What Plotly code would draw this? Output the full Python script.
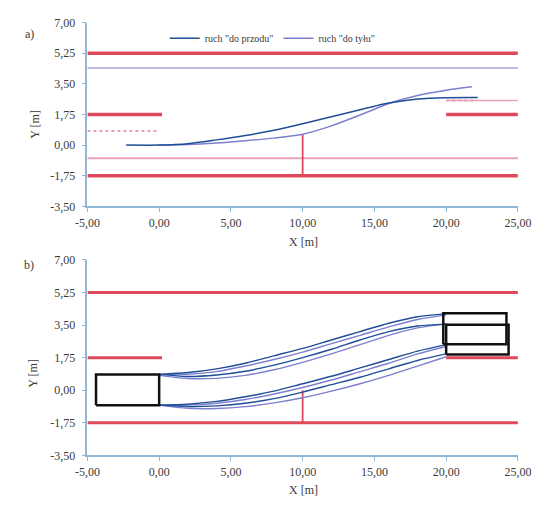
import plotly.graph_objects as go

# ---------------- data ----------------
y_ticks = [-3.5, -1.75, 0.0, 1.75, 3.5, 5.25, 7.0]
y_tick_text = ["-3,50", "-1,75", "0,00", "1,75", "3,50", "5,25", "7,00"]
x_ticks = [-5, 0, 5, 10, 15, 20, 25]
x_tick_text = ["-5,00", "0,00", "5,00", "10,00", "15,00", "20,00", "25,00"]

# panel a) trajectories
a_fwd_x = [-2.3, 0, 2, 4, 6, 8, 10, 12, 14, 15, 16, 18, 20, 22.2]
a_fwd_y = [0.0, 0.0, 0.08, 0.3, 0.55, 0.85, 1.22, 1.62, 2.02, 2.22, 2.4, 2.63, 2.71, 2.72]
a_bwd_x = [0, 2, 4, 6, 8, 10, 12, 14, 15, 16, 18, 20, 21.8]
a_bwd_y = [0.0, 0.03, 0.12, 0.25, 0.4, 0.62, 1.1, 1.72, 2.05, 2.38, 2.84, 3.14, 3.33]

# panel b) trajectories (corners of the vehicle)
b_x = [0, 2, 4, 6, 8, 10, 12, 14, 16, 18, 20]
b_up_fwd1 = [0.85, 0.95, 1.15, 1.45, 1.85, 2.25, 2.7, 3.15, 3.6, 3.95, 4.1]
b_up_fwd2 = [0.85, 0.74, 0.82, 1.02, 1.35, 1.75, 2.2, 2.7, 3.15, 3.45, 3.55]
b_up_bwd1 = [0.85, 0.86, 1.0, 1.3, 1.65, 2.05, 2.5, 2.95, 3.4, 3.8, 4.05]
b_up_bwd2 = [0.8, 0.63, 0.64, 0.8, 1.1, 1.5, 1.95, 2.45, 2.95, 3.35, 3.55]
b_lo_fwd1 = [-0.8, -0.75, -0.6, -0.35, -0.05, 0.35, 0.75, 1.2, 1.65, 2.1, 2.45]
b_lo_fwd2 = [-0.8, -0.88, -0.84, -0.7, -0.45, -0.1, 0.3, 0.7, 1.15, 1.6, 1.95]
b_lo_bwd1 = [-0.8, -0.8, -0.7, -0.5, -0.2, 0.15, 0.55, 1.0, 1.45, 1.95, 2.35]
b_lo_bwd2 = [-0.8, -0.97, -0.98, -0.88, -0.68, -0.4, -0.05, 0.35, 0.8, 1.3, 1.8]

# vehicle outlines in panel b)
veh_start_x = [-4.4, 0.0, 0.0, -4.4, -4.4]
veh_start_y = [-0.8, -0.8, 0.85, 0.85, -0.8]
veh_end1_x = [19.8, 24.2, 24.2, 19.8, 19.8]
veh_end1_y = [2.47, 2.47, 4.13, 4.13, 2.47]
veh_end2_x = [20.0, 24.35, 24.35, 20.0, 20.0]
veh_end2_y = [1.92, 1.92, 3.52, 3.52, 1.92]

# road markings  (x0, x1, y)
a_red_lines = [(-5, 25, 5.25), (-5, 0.2, 1.75), (20, 25, 1.75), (-5, 25, -1.75)]
a_thin_lines = [(-5, 25, 4.4), (-5, 25, -0.75), (20, 25, 2.55)]
a_dotted_lines = [(-5, 0, 0.8), (20, 22, 2.55)]
a_vertical = (10, -1.75, 0.6)
b_red_lines = [(-5, 25, 5.25), (-5, 0.2, 1.75), (20, 25, 1.75), (-5, 25, -1.75)]
b_vertical = (10, -1.75, 0.0)

# ---------------- style ----------------
RED = "#df4a5a"
PINK = "#e8a2b8"
LILAC = "#a9a2d8"
FWD = "#1f4f96"
BWD = "#7c80cf"
BLACK = "#111111"
FONT = "Liberation Serif"

fig = go.Figure()


def hline(x0, x1, y, color, width, xa, ya, dash="solid"):
    fig.add_trace(go.Scatter(x=[x0, x1], y=[y, y], mode="lines",
                             line=dict(color=color, width=width, dash=dash),
                             xaxis=xa, yaxis=ya, showlegend=False,
                             hoverinfo="skip"))


def vline(x, y0, y1, color, width, xa, ya):
    fig.add_trace(go.Scatter(x=[x, x], y=[y0, y1], mode="lines",
                             line=dict(color=color, width=width),
                             xaxis=xa, yaxis=ya, showlegend=False,
                             hoverinfo="skip"))


# ---- panel a ----
for x0, x1, y in a_red_lines:
    hline(x0, x1, y, RED, 3.5, "x", "y")
hline(*a_thin_lines[0], LILAC, 1.5, "x", "y")
hline(*a_thin_lines[1], PINK, 2, "x", "y")
hline(*a_thin_lines[2], PINK, 1.5, "x", "y")
for x0, x1, y in a_dotted_lines:
    hline(x0, x1, y, PINK, 2, "x", "y", dash="dot")
vline(*a_vertical, RED, 1.8, "x", "y")

fig.add_trace(go.Scatter(x=a_bwd_x, y=a_bwd_y, mode="lines", line_shape="spline",
                         line=dict(color=BWD, width=1.5, smoothing=0.8), name='ruch "do tyłu"',
                         xaxis="x", yaxis="y", legendrank=2))
fig.add_trace(go.Scatter(x=a_fwd_x, y=a_fwd_y, mode="lines", line_shape="spline",
                         line=dict(color=FWD, width=1.5, smoothing=0.8), name='ruch "do przodu"',
                         xaxis="x", yaxis="y", legendrank=1))

# ---- panel b ----
for x0, x1, y in b_red_lines:
    hline(x0, x1, y, RED, 3, "x2", "y2")
vline(*b_vertical, RED, 1.8, "x2", "y2")

for ys, col in [(b_up_bwd1, BWD), (b_up_bwd2, BWD), (b_lo_bwd1, BWD), (b_lo_bwd2, BWD),
                (b_up_fwd1, FWD), (b_up_fwd2, FWD), (b_lo_fwd1, FWD), (b_lo_fwd2, FWD)]:
    fig.add_trace(go.Scatter(x=b_x, y=ys, mode="lines", line_shape="spline",
                             line=dict(color=col, width=1.4, smoothing=0.8),
                             xaxis="x2", yaxis="y2",
                             showlegend=False, hoverinfo="skip"))

for vx, vy in [(veh_start_x, veh_start_y), (veh_end1_x, veh_end1_y), (veh_end2_x, veh_end2_y)]:
    fig.add_trace(go.Scatter(x=vx, y=vy, mode="lines", line=dict(color=BLACK, width=2.5),
                             xaxis="x2", yaxis="y2", showlegend=False, hoverinfo="skip"))

# ---------------- layout ----------------
xdom = [79 / 550, 530 / 550]
ax_common = dict(showgrid=False, zeroline=False, showline=True, linecolor="#8fb8d6",
                 linewidth=1.5, ticks="outside", ticklen=4, tickcolor="#8fb8d6",
                 tickfont=dict(family=FONT, size=12, color="#3a3a3a"))

fig.update_layout(
    width=550, height=513,
    margin=dict(l=0, r=0, t=0, b=0),
    paper_bgcolor="white", plot_bgcolor="white",
    font=dict(family=FONT, size=11, color="#3a3a3a"),
    xaxis=dict(domain=xdom, anchor="y", range=[-5, 25], tickvals=x_ticks,
               ticktext=x_tick_text, **ax_common),
    yaxis=dict(domain=[1 - 205 / 513, 1 - 16 / 513], anchor="x", range=[-3.5, 7],
               tickvals=y_ticks, ticktext=y_tick_text, ticklabelstandoff=4, **ax_common),
    xaxis2=dict(domain=xdom, anchor="y2", range=[-5, 25], tickvals=x_ticks,
                ticktext=x_tick_text, **ax_common),
    yaxis2=dict(domain=[1 - 461 / 513, 1 - 260 / 513], anchor="x2", range=[-3.5, 7],
                tickvals=y_ticks, ticktext=y_tick_text, ticklabelstandoff=4, **ax_common),
    legend=dict(orientation="h", x=160 / 550, y=1 - 32 / 513, xanchor="left",
                yanchor="middle", bgcolor="rgba(0,0,0,0)",
                font=dict(family=FONT, size=10, color="#3a3a3a"),
                itemwidth=30, tracegroupgap=0),
    showlegend=True,
)

annots = [
    dict(text="a)", x=18 / 550, y=1 - 28 / 513),
    dict(text="b)", x=18 / 550, y=1 - 265 / 513),
    dict(text="X [m]", x=305 / 550, y=1 - 242 / 513),
    dict(text="X [m]", x=305 / 550, y=1 - 497 / 513),
    dict(text="Y [m]", x=24 / 550, y=1 - 120 / 513, textangle=-90),
    dict(text="Y [m]", x=22 / 550, y=1 - 377 / 513, textangle=-90),
]
for a in annots:
    fig.add_annotation(xref="paper", yref="paper", showarrow=False,
                       xanchor="center", yanchor="middle",
                       font=dict(family=FONT, size=12, color="#3a3a3a"), **a)

fig.write_html("out.html")
